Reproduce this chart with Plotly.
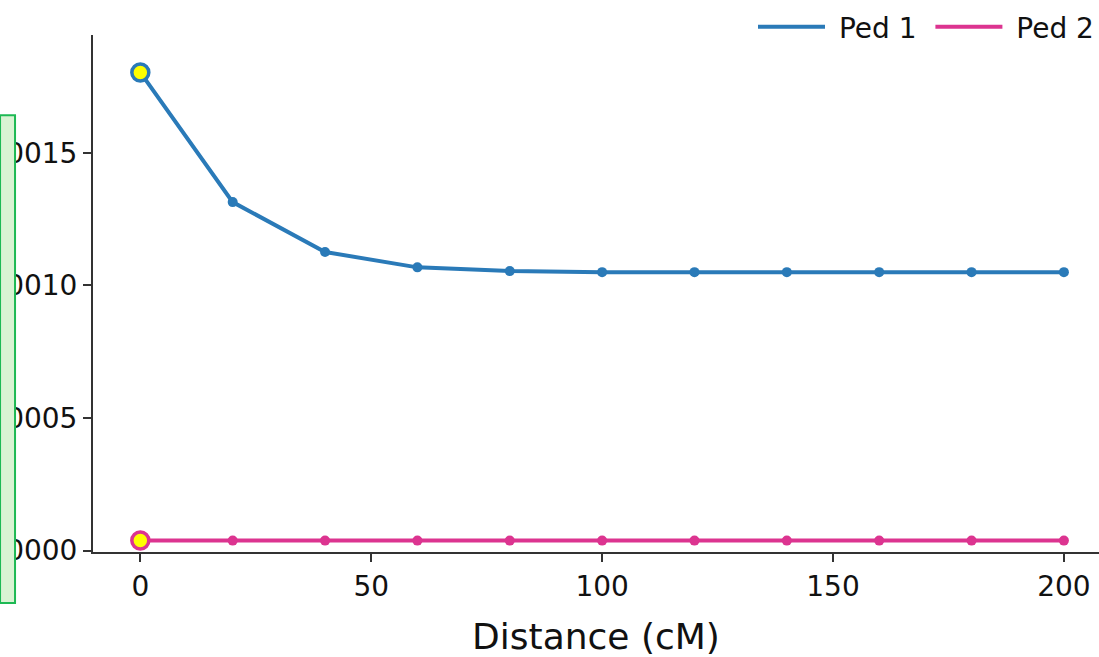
import plotly.graph_objects as go

distance = [0, 20, 40, 60, 80, 100, 120, 140, 160, 180, 200]
ped1 = [0.001803, 0.001314, 0.001126, 0.001068, 0.001054, 0.00105, 0.00105, 0.00105, 0.00105, 0.00105, 0.00105]
ped2 = [0.000038, 0.000038, 0.000038, 0.000038, 0.000038, 0.000038, 0.000038, 0.000038, 0.000038, 0.000038, 0.000038]
series_names = ["Ped 1", "Ped 2"]
series_colors = ["#2a7ab8", "#dc3490"]
x_ticks = [0, 50, 100, 150, 200]
y_ticks = [0.0, 0.0005, 0.0010, 0.0015]

FONT = "DejaVu Sans, Verdana, sans-serif"
NB = "\u00a0"
legend_labels = [NB + series_names[0] + NB, NB + series_names[1]]

fig = go.Figure()
for label, vals, col in zip(legend_labels, [ped1, ped2], series_colors):
    fig.add_trace(go.Scatter(
        x=distance, y=vals, name=label, mode="lines",
        line=dict(color=col, width=4),
    ))
for name, vals, col in zip(series_names, [ped1, ped2], series_colors):
    n = len(vals)
    fig.add_trace(go.Scatter(
        x=distance, y=vals, name=name, mode="markers", showlegend=False,
        marker=dict(
            size=[17] + [10] * (n - 1),
            color=["#ffff00"] + [col] * (n - 1),
            line=dict(color=col, width=[3.5] + [0] * (n - 1)),
            opacity=1,
        ),
    ))

fig.update_layout(
    width=1099, height=657,
    margin=dict(l=93, r=0, t=35, b=105, autoexpand=False),
    paper_bgcolor="white", plot_bgcolor="white",
    font=dict(family=FONT, size=28, color="#111111"),
    showlegend=True,
    legend=dict(orientation="h", x=1.0, xanchor="right", y=1.0155, yanchor="middle",
                font=dict(size=28), itemwidth=67, bgcolor="rgba(0,0,0,0)"),
    xaxis=dict(
        range=[-10.25, 207.6], tickvals=x_ticks, showgrid=False, zeroline=False,
        showline=True, linecolor="#333333", linewidth=2,
        ticks="outside", ticklen=8, tickwidth=2, tickcolor="#333333",
        title=dict(text="Distance (cM)", font=dict(size=36), standoff=22),
        automargin=False,
    ),
    yaxis=dict(
        range=[-0.000005, 0.001944], tickvals=y_ticks, tickformat=".4f",
        showgrid=False, zeroline=False,
        showline=True, linecolor="#333333", linewidth=2,
        ticks="outside", ticklen=8, tickwidth=2, tickcolor="#333333",
        automargin=False,
    ),
    shapes=[dict(type="rect", xref="paper", yref="paper",
                 x0=-0.0924, x1=-0.0775, y0=-0.0986, y1=0.845,
                 fillcolor="#d9f3d3", line=dict(color="#1db954", width=2), layer="above")],
)

fig.write_html("out.html", config={"displayModeBar": False},
               post_script="document.body.style.margin='0';document.body.style.overflow='hidden';")
